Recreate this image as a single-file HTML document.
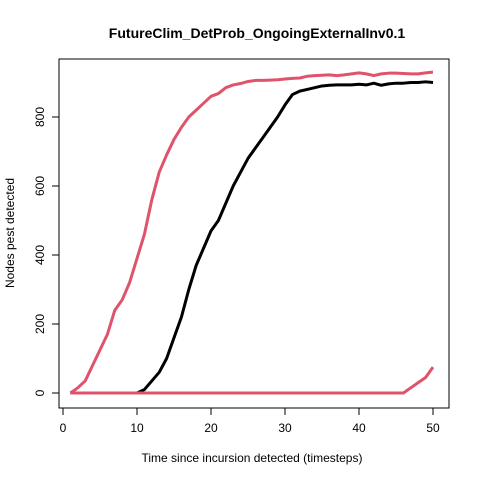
<!DOCTYPE html>
<html><head><meta charset="utf-8"><style>body{margin:0;background:#fff}svg{font-family:"Liberation Sans",Arial,sans-serif}</style></head>
<body>
<svg id="c" width="480" height="480" viewBox="0 0 480 480">
<rect width="480" height="480" fill="#fff"/>
<text x="257" y="38" text-anchor="middle" font-size="14" font-weight="bold">FutureClim_DetProb_OngoingExternalInv0.1</text>
<rect x="59" y="59" width="390" height="349" fill="none" stroke="#000"/>
<g id="ax"></g>
<text x="252" y="462" text-anchor="middle" font-size="12">Time since incursion detected (timesteps)</text>
<text transform="translate(14,233) rotate(-90)" text-anchor="middle" font-size="12">Nodes pest detected</text>
<g id="lines"></g>
</svg>
<script>
const timesteps=[1,2,3,4,5,6,7,8,9,10,11,12,13,14,15,16,17,18,19,20,21,22,23,24,25,26,27,28,29,30,31,32,33,34,35,36,37,38,39,40,41,42,43,44,45,46,47,48,49,50];
const redTop=[0,15,35,80,125,170,240,270,320,390,460,560,640,690,735,770,800,820,840,860,868,885,893,897,903,906,906,907,908,910,912,913,918,920,921,922,920,922,925,928,925,920,925,927,927,926,925,925,928,930];
const black=[0,0,0,0,0,0,0,0,0,0,10,35,60,100,160,220,300,370,420,470,500,550,600,640,680,710,740,770,800,835,865,875,880,885,890,892,893,893,893,895,893,898,892,896,898,898,900,900,902,900];
const redLow=[0,0,0,0,0,0,0,0,0,0,0,0,0,0,0,0,0,0,0,0,0,0,0,0,0,0,0,0,0,0,0,0,0,0,0,0,0,0,0,0,0,0,0,0,0,0,15,30,45,75];
const xTicks=[0,10,20,30,40,50];
const yTicks=[0,200,400,600,800];
const X=v=>63+7.4*v, Y=v=>393-0.345*v;
const NS='http://www.w3.org/2000/svg';
const ax=document.getElementById('ax'), lg=document.getElementById('lines');
function mk(t,a,p){const e=document.createElementNS(NS,t);for(const k in a)e.setAttribute(k,a[k]);p.appendChild(e);return e;}
xTicks.forEach(v=>{
 const l=mk('line',{x1:X(v),x2:X(v),y1:408,y2:415,stroke:'#000'},ax);
 
 
 const t=mk('text',{x:X(v),y:432,'text-anchor':'middle','font-size':12},ax);t.textContent=v;
 
 
});
yTicks.forEach(v=>{
 const l=mk('line',{x1:52,x2:59,y1:Y(v),y2:Y(v),stroke:'#000'},ax);
 
 
 const t=mk('text',{transform:`translate(44,${Y(v)}) rotate(-90)`,'text-anchor':'middle','font-size':12},ax);t.textContent=v;
 
 
});
function line(d,c,n){
 const p=mk('polyline',{points:d.map((v,i)=>X(timesteps[i])+','+Y(v)).join(' '),fill:'none',stroke:c,'stroke-width':3,'stroke-linejoin':'round'},lg);
 
 
}
line(black,'#000','series-black');
line(redTop,'#DF536B','series-red-upper');
line(redLow,'#DF536B','series-red-lower');
</script>
</body></html>
